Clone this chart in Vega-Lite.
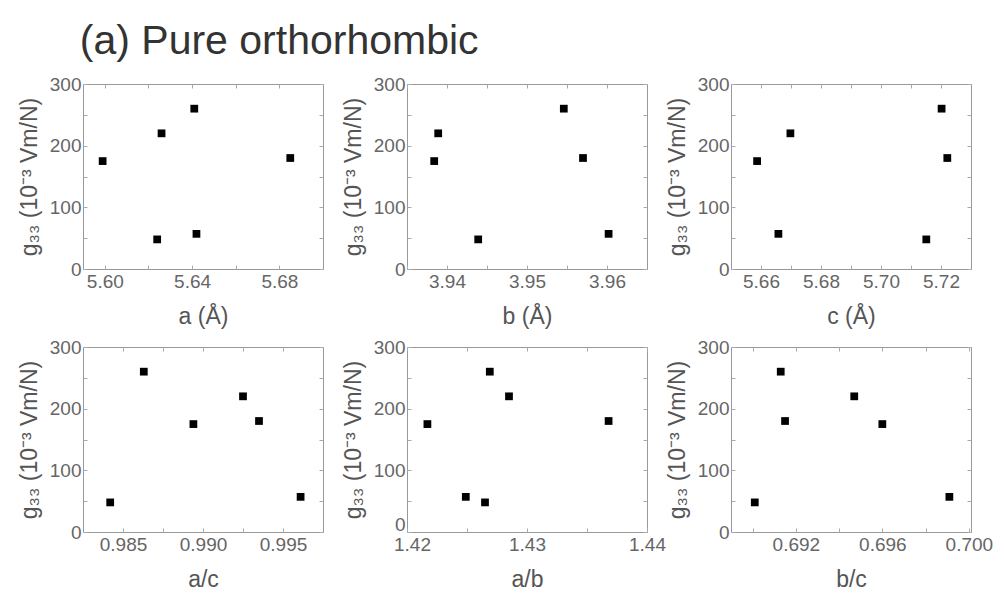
{
  "$schema": "https://vega.github.io/schema/vega-lite/v6.json",
  "background": "white",
  "padding": {"left": 17, "top": 20, "right": 5, "bottom": 5},
  "title": {"text": "(a) Pure orthorhombic", "anchor": "start", "fontSize": 41, "font": "Liberation Sans", "fontWeight": "normal", "color": "#333", "dx": 62, "offset": 12},
  "data": {"values": [
    {"g": 175, "a": 5.599, "b": 3.9384, "c": 5.6587, "ac": 0.9894, "ab": 1.4217, "bc": 0.6960},
    {"g": 220, "a": 5.626, "b": 3.9389, "c": 5.6698, "ac": 0.9925, "ab": 1.4285, "bc": 0.6947},
    {"g": 260, "a": 5.641, "b": 3.9546, "c": 5.7202, "ac": 0.9863, "ab": 1.4269, "bc": 0.6913},
    {"g": 48, "a": 5.624, "b": 3.9439, "c": 5.7151, "ac": 0.9842, "ab": 1.4265, "bc": 0.6901},
    {"g": 57, "a": 5.642, "b": 3.9602, "c": 5.6658, "ac": 0.9961, "ab": 1.4249, "bc": 0.6991},
    {"g": 180, "a": 5.685, "b": 3.9570, "c": 5.7221, "ac": 0.9935, "ab": 1.4368, "bc": 0.6915}
  ]},
  "columns": 3,
  "bounds": "flush",
  "spacing": {"row": 78, "column": 84},
  "concat": [
    {"width": 240, "height": 185, "layer": [
      {"mark": {"type": "point", "shape": "square", "filled": true, "color": "black", "size": 60, "opacity": 1},
       "encoding": {
         "x": {"field": "a", "type": "quantitative", "scale": {"domain": [5.59, 5.70], "nice": false, "zero": false}, "axis": {"title": "a (Å)", "values": [5.60, 5.62, 5.64, 5.66, 5.68], "format": ".2f", "labelExpr": "round(datum.value*100) % 4 == 0 ? datum.label : ''"}},
         "y": {"field": "g", "type": "quantitative", "scale": {"domain": [0, 300], "nice": false}, "axis": {"title": "g₃₃ (10⁻³ Vm/N)", "values": [0, 50, 100, 150, 200, 250, 300], "labelExpr": "datum.value % 100 == 0 ? datum.label : ''"}}}},
      {"mark": {"type": "point", "opacity": 0},
       "encoding": {
         "x": {"field": "a", "type": "quantitative", "scale": {"domain": [5.59, 5.70], "nice": false, "zero": false}, "axis": {"orient": "top", "title": null, "labels": false, "values": [5.60, 5.62, 5.64, 5.66, 5.68]}},
         "y": {"field": "g", "type": "quantitative", "scale": {"domain": [0, 300], "nice": false}, "axis": {"orient": "right", "title": null, "labels": false, "values": [0, 50, 100, 150, 200, 250, 300]}}}}
    ], "resolve": {"axis": {"x": "independent", "y": "independent"}}},
    {"width": 240, "height": 185, "layer": [
      {"mark": {"type": "point", "shape": "square", "filled": true, "color": "black", "size": 60, "opacity": 1},
       "encoding": {
         "x": {"field": "b", "type": "quantitative", "scale": {"domain": [3.935, 3.965], "nice": false, "zero": false}, "axis": {"title": "b (Å)", "values": [3.935, 3.94, 3.945, 3.95, 3.955, 3.96], "format": ".2f", "labelExpr": "round(datum.value*1000) % 10 == 0 ? datum.label : ''"}},
         "y": {"field": "g", "type": "quantitative", "scale": {"domain": [0, 300], "nice": false}, "axis": {"title": "g₃₃ (10⁻³ Vm/N)", "values": [0, 50, 100, 150, 200, 250, 300], "labelExpr": "datum.value % 100 == 0 ? datum.label : ''"}}}},
      {"mark": {"type": "point", "opacity": 0},
       "encoding": {
         "x": {"field": "b", "type": "quantitative", "scale": {"domain": [3.935, 3.965], "nice": false, "zero": false}, "axis": {"orient": "top", "title": null, "labels": false, "values": [3.935, 3.94, 3.945, 3.95, 3.955, 3.96]}},
         "y": {"field": "g", "type": "quantitative", "scale": {"domain": [0, 300], "nice": false}, "axis": {"orient": "right", "title": null, "labels": false, "values": [0, 50, 100, 150, 200, 250, 300]}}}}
    ], "resolve": {"axis": {"x": "independent", "y": "independent"}}},
    {"width": 240, "height": 185, "layer": [
      {"mark": {"type": "point", "shape": "square", "filled": true, "color": "black", "size": 60, "opacity": 1},
       "encoding": {
         "x": {"field": "c", "type": "quantitative", "scale": {"domain": [5.65, 5.73], "nice": false, "zero": false}, "axis": {"title": "c (Å)", "values": [5.66, 5.67, 5.68, 5.69, 5.70, 5.71, 5.72], "format": ".2f", "labelExpr": "round(datum.value*100) % 2 == 0 ? datum.label : ''"}},
         "y": {"field": "g", "type": "quantitative", "scale": {"domain": [0, 300], "nice": false}, "axis": {"title": "g₃₃ (10⁻³ Vm/N)", "values": [0, 50, 100, 150, 200, 250, 300], "labelExpr": "datum.value % 100 == 0 ? datum.label : ''"}}}},
      {"mark": {"type": "point", "opacity": 0},
       "encoding": {
         "x": {"field": "c", "type": "quantitative", "scale": {"domain": [5.65, 5.73], "nice": false, "zero": false}, "axis": {"orient": "top", "title": null, "labels": false, "values": [5.66, 5.67, 5.68, 5.69, 5.70, 5.71, 5.72]}},
         "y": {"field": "g", "type": "quantitative", "scale": {"domain": [0, 300], "nice": false}, "axis": {"orient": "right", "title": null, "labels": false, "values": [0, 50, 100, 150, 200, 250, 300]}}}}
    ], "resolve": {"axis": {"x": "independent", "y": "independent"}}},
    {"width": 240, "height": 185, "layer": [
      {"mark": {"type": "point", "shape": "square", "filled": true, "color": "black", "size": 60, "opacity": 1},
       "encoding": {
         "x": {"field": "ac", "type": "quantitative", "scale": {"domain": [0.9825, 0.9975], "nice": false, "zero": false}, "axis": {"title": "a/c", "values": [0.985, 0.9875, 0.99, 0.9925, 0.995], "format": ".3f", "labelExpr": "round(datum.value*10000) % 50 == 0 ? datum.label : ''"}},
         "y": {"field": "g", "type": "quantitative", "scale": {"domain": [0, 300], "nice": false}, "axis": {"title": "g₃₃ (10⁻³ Vm/N)", "values": [0, 50, 100, 150, 200, 250, 300], "labelExpr": "datum.value % 100 == 0 ? datum.label : ''"}}}},
      {"mark": {"type": "point", "opacity": 0},
       "encoding": {
         "x": {"field": "ac", "type": "quantitative", "scale": {"domain": [0.9825, 0.9975], "nice": false, "zero": false}, "axis": {"orient": "top", "title": null, "labels": false, "values": [0.985, 0.9875, 0.99, 0.9925, 0.995]}},
         "y": {"field": "g", "type": "quantitative", "scale": {"domain": [0, 300], "nice": false}, "axis": {"orient": "right", "title": null, "labels": false, "values": [0, 50, 100, 150, 200, 250, 300]}}}}
    ], "resolve": {"axis": {"x": "independent", "y": "independent"}}},
    {"width": 240, "height": 185, "layer": [
      {"mark": {"type": "point", "shape": "square", "filled": true, "color": "black", "size": 60, "opacity": 1},
       "encoding": {
         "x": {"field": "ab", "type": "quantitative", "scale": {"domain": [1.42, 1.44], "nice": false, "zero": false}, "axis": {"title": "a/b", "values": [1.42, 1.425, 1.43, 1.435, 1.44], "format": ".2f", "labelExpr": "round(datum.value*1000) % 10 == 0 ? datum.label : ''", "labelOffset": {"condition": {"test": "datum.value < 1.421", "value": 5}, "value": 0}}},
         "y": {"field": "g", "type": "quantitative", "scale": {"domain": [0, 300], "nice": false}, "axis": {"title": "g₃₃ (10⁻³ Vm/N)", "values": [0, 50, 100, 150, 200, 250, 300], "labelExpr": "datum.value % 100 == 0 ? datum.label : ''", "labelOffset": {"condition": {"test": "datum.value == 0", "value": -8}, "value": 0}}}}},
      {"mark": {"type": "point", "opacity": 0},
       "encoding": {
         "x": {"field": "ab", "type": "quantitative", "scale": {"domain": [1.42, 1.44], "nice": false, "zero": false}, "axis": {"orient": "top", "title": null, "labels": false, "values": [1.42, 1.425, 1.43, 1.435, 1.44]}},
         "y": {"field": "g", "type": "quantitative", "scale": {"domain": [0, 300], "nice": false}, "axis": {"orient": "right", "title": null, "labels": false, "values": [0, 50, 100, 150, 200, 250, 300]}}}}
    ], "resolve": {"axis": {"x": "independent", "y": "independent"}}},
    {"width": 240, "height": 185, "layer": [
      {"mark": {"type": "point", "shape": "square", "filled": true, "color": "black", "size": 60, "opacity": 1},
       "encoding": {
         "x": {"field": "bc", "type": "quantitative", "scale": {"domain": [0.689, 0.7001], "nice": false, "zero": false}, "axis": {"title": "b/c", "values": [0.69, 0.692, 0.694, 0.696, 0.698, 0.7], "format": ".3f", "labelExpr": "round(datum.value*1000) % 4 == 0 ? datum.label : ''"}},
         "y": {"field": "g", "type": "quantitative", "scale": {"domain": [0, 300], "nice": false}, "axis": {"title": "g₃₃ (10⁻³ Vm/N)", "values": [0, 50, 100, 150, 200, 250, 300], "labelExpr": "datum.value % 100 == 0 ? datum.label : ''"}}}},
      {"mark": {"type": "point", "opacity": 0},
       "encoding": {
         "x": {"field": "bc", "type": "quantitative", "scale": {"domain": [0.689, 0.7001], "nice": false, "zero": false}, "axis": {"orient": "top", "title": null, "labels": false, "values": [0.69, 0.692, 0.694, 0.696, 0.698, 0.7]}},
         "y": {"field": "g", "type": "quantitative", "scale": {"domain": [0, 300], "nice": false}, "axis": {"orient": "right", "title": null, "labels": false, "values": [0, 50, 100, 150, 200, 250, 300]}}}}
    ], "resolve": {"axis": {"x": "independent", "y": "independent"}}}
  ],
  "config": {
    "view": {"stroke": "#999", "strokeWidth": 1},
    "axis": {"domain": false, "grid": false, "tickColor": "#aaa", "tickSize": -4, "labelFont": "Liberation Sans", "labelFontSize": 19, "labelColor": "#666", "labelPadding": 6, "labelOverlap": false, "labelFlush": false, "titleFont": "Liberation Sans", "titleFontSize": 23, "titleFontWeight": "normal", "titleColor": "#555", "titlePadding": 8},
    "axisX": {"titlePadding": 14, "labelPadding": 7}
  }
}
